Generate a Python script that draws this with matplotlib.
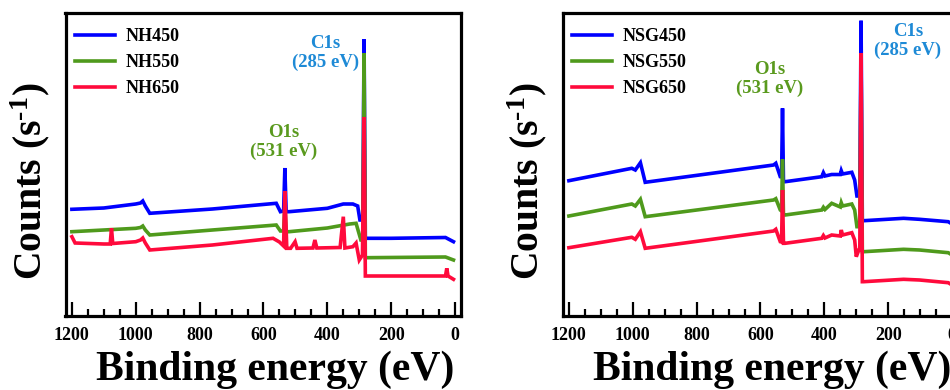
import matplotlib
matplotlib.use('Agg')
import numpy as np
import matplotlib.pyplot as plt
from matplotlib.ticker import MultipleLocator

plt.rcParams['font.family'] = ['Liberation Serif', 'DejaVu Serif']
plt.rcParams['font.weight'] = 'bold'
plt.rcParams['mathtext.fontset'] = 'custom'
plt.rcParams['mathtext.rm'] = 'Liberation Serif:bold'
plt.rcParams['mathtext.default'] = 'rm'

# ---- left panel: NH samples (binding energy in eV, counts in arb. units)
nh450_e = [1200, 1100, 1000, 985, 978, 970, 956, 760, 560, 547, 537, 533, 529, 520,
           400, 350, 320, 305, 298, 289, 285, 281, 200, 30, 5]
nh450_c = [106.7, 108, 112, 113, 115, 110, 102.7, 107, 112.7, 104.3, 105, 148, 104.3, 104.3,
           107.7, 112, 112, 110, 96, 96, 276.7, 77.7, 77.7, 78.5, 74.3]

nh550_e = [1200, 1100, 1000, 985, 978, 970, 956, 760, 560, 547, 537, 533, 529, 520,
           400, 330, 310, 295, 289, 285, 281, 30, 5]
nh550_c = [84.3, 86, 87.7, 88.5, 90, 86, 81, 86, 91, 85, 85, 111, 84.3, 84.3,
           88, 92, 92.7, 76, 76, 262.7, 58.3, 59, 56]

nh650_e = [1200, 1190, 1100, 1080, 1076, 1072, 1000, 985, 978, 970, 956, 760, 570, 550,
           537, 533, 527, 515, 501, 495, 445, 439, 433, 360, 350, 345, 320, 310, 300,
           290, 285, 281, 30, 26, 22, 5]
nh650_c = [79.3, 73, 72, 72, 87.7, 72.5, 74.3, 76, 78, 73, 66, 71, 77.7, 74,
           70, 125, 67.7, 67.7, 74.3, 67.7, 68, 76, 68, 68.5, 99.3, 68, 69.3, 73, 56,
           61, 199, 40, 40, 47.7, 40, 36.7]

# ---- right panel: NSG samples
nsg_e = [1200, 1003, 992, 976, 961, 559, 552, 538, 534, 531, 528, 523, 408, 403, 398,
         377, 350, 347, 343, 314, 305, 298, 289, 285, 281, 277, 152, 102, 12, 0]
nsg450_c = [135.3, 147.7, 146, 153.3, 133.7, 151, 152.7, 139.3, 139, 207.7, 134.3, 134.3,
            139.3, 143.3, 140, 141.5, 141.5, 145.3, 142, 143.7, 136, 120, 120, 295.3,
            95.3, 95.3, 97.7, 96.7, 94.3, 92]
nsg550_c = [100, 112, 110, 116.7, 99.3, 116, 117.3, 106, 105, 156.7, 101, 101,
            106, 108.7, 106.5, 112.7, 109, 113.3, 110, 112, 106, 89.3, 89.3, 256,
            64.3, 64.3, 66.7, 66, 63.3, 61]
nsg650_e = [1200, 1003, 992, 976, 961, 559, 552, 538, 534, 531, 528, 523, 408, 403, 398,
            377, 350, 347, 343, 314, 305, 300, 292, 289, 285, 281, 277, 152, 102, 12, 0]
nsg650_c = [68.3, 78.7, 76.7, 84.3, 67.7, 85, 86.7, 74.3, 74, 126, 72.7, 72.7,
            77.7, 80.5, 78, 81, 80, 86, 81, 83.3, 76, 59.3, 66, 66, 262.7,
            34.3, 34.3, 36.7, 36, 33.3, 31]

colors = ['#0000ff', '#4f9a1c', '#ff0a3c']
c1s_color = '#1e8ad6'
o1s_color = '#5a9a1e'


def draw_panel(ax, series, labels, c1s_pos, o1s_pos):
    for (e, c), lab, col in zip(series, labels, colors):
        ax.plot(e, c, color=col, linewidth=2.6, label=lab, solid_joinstyle='miter')

    ax.set_xlim(1220, -17)
    ax.set_ylim(0, 303)

    for s in ax.spines.values():
        s.set_linewidth(2.3)

    ax.xaxis.set_major_locator(MultipleLocator(200))
    ax.xaxis.set_minor_locator(MultipleLocator(50))
    ax.tick_params(axis='x', which='major', direction='in', length=10, width=1.6,
                   labelsize=13, pad=8, top=False)
    ax.tick_params(axis='x', which='minor', direction='in', length=5, width=1.6, top=False)
    ax.tick_params(axis='y', left=False, right=False, labelleft=False)

    ax.set_ylabel(r'Counts (s$^{\text{-1}}$)', fontsize=28.5, fontweight='bold')
    ax.yaxis.set_label_coords(-0.035, 0.445)
    ax.set_xlabel('Binding energy (eV)', fontsize=30, fontweight='bold')
    ax.xaxis.set_label_coords(0.53, -0.115)

    ax.text(c1s_pos[0], c1s_pos[1], 'C1s\n(285 eV)', color=c1s_color, fontsize=13.5,
            fontweight='bold', ha='center', va='center', multialignment='center',
            linespacing=1.15)
    ax.text(o1s_pos[0], o1s_pos[1], 'O1s\n(531 eV)', color=o1s_color, fontsize=13.5,
            fontweight='bold', ha='center', va='center', multialignment='center',
            linespacing=1.15)

    ax.legend(loc='upper left', bbox_to_anchor=(0.024, 0.95), frameon=False,
              fontsize=13, handlelength=2.2, handletextpad=0.6, labelspacing=0.5,
              borderpad=0, borderaxespad=0)


fig = plt.figure(figsize=(9.5, 3.9), dpi=100)
ax1 = fig.add_axes([65.5 / 950, 1 - 316 / 390, 395 / 950, 303 / 390])
ax2 = fig.add_axes([562.5 / 950, 1 - 316 / 390, 395 / 950, 303 / 390])

draw_panel(ax1,
           [(nh450_e, nh450_c), (nh550_e, nh550_c), (nh650_e, nh650_c)],
           ['NH450', 'NH550', 'NH650'],
           (407, 263), (538, 174))
draw_panel(ax2,
           [(nsg_e, nsg450_c), (nsg_e, nsg550_c), (nsg650_e, nsg650_c)],
           ['NSG450', 'NSG550', 'NSG650'],
           (138, 275), (570, 237))

fig.savefig('out.png', dpi=100)
